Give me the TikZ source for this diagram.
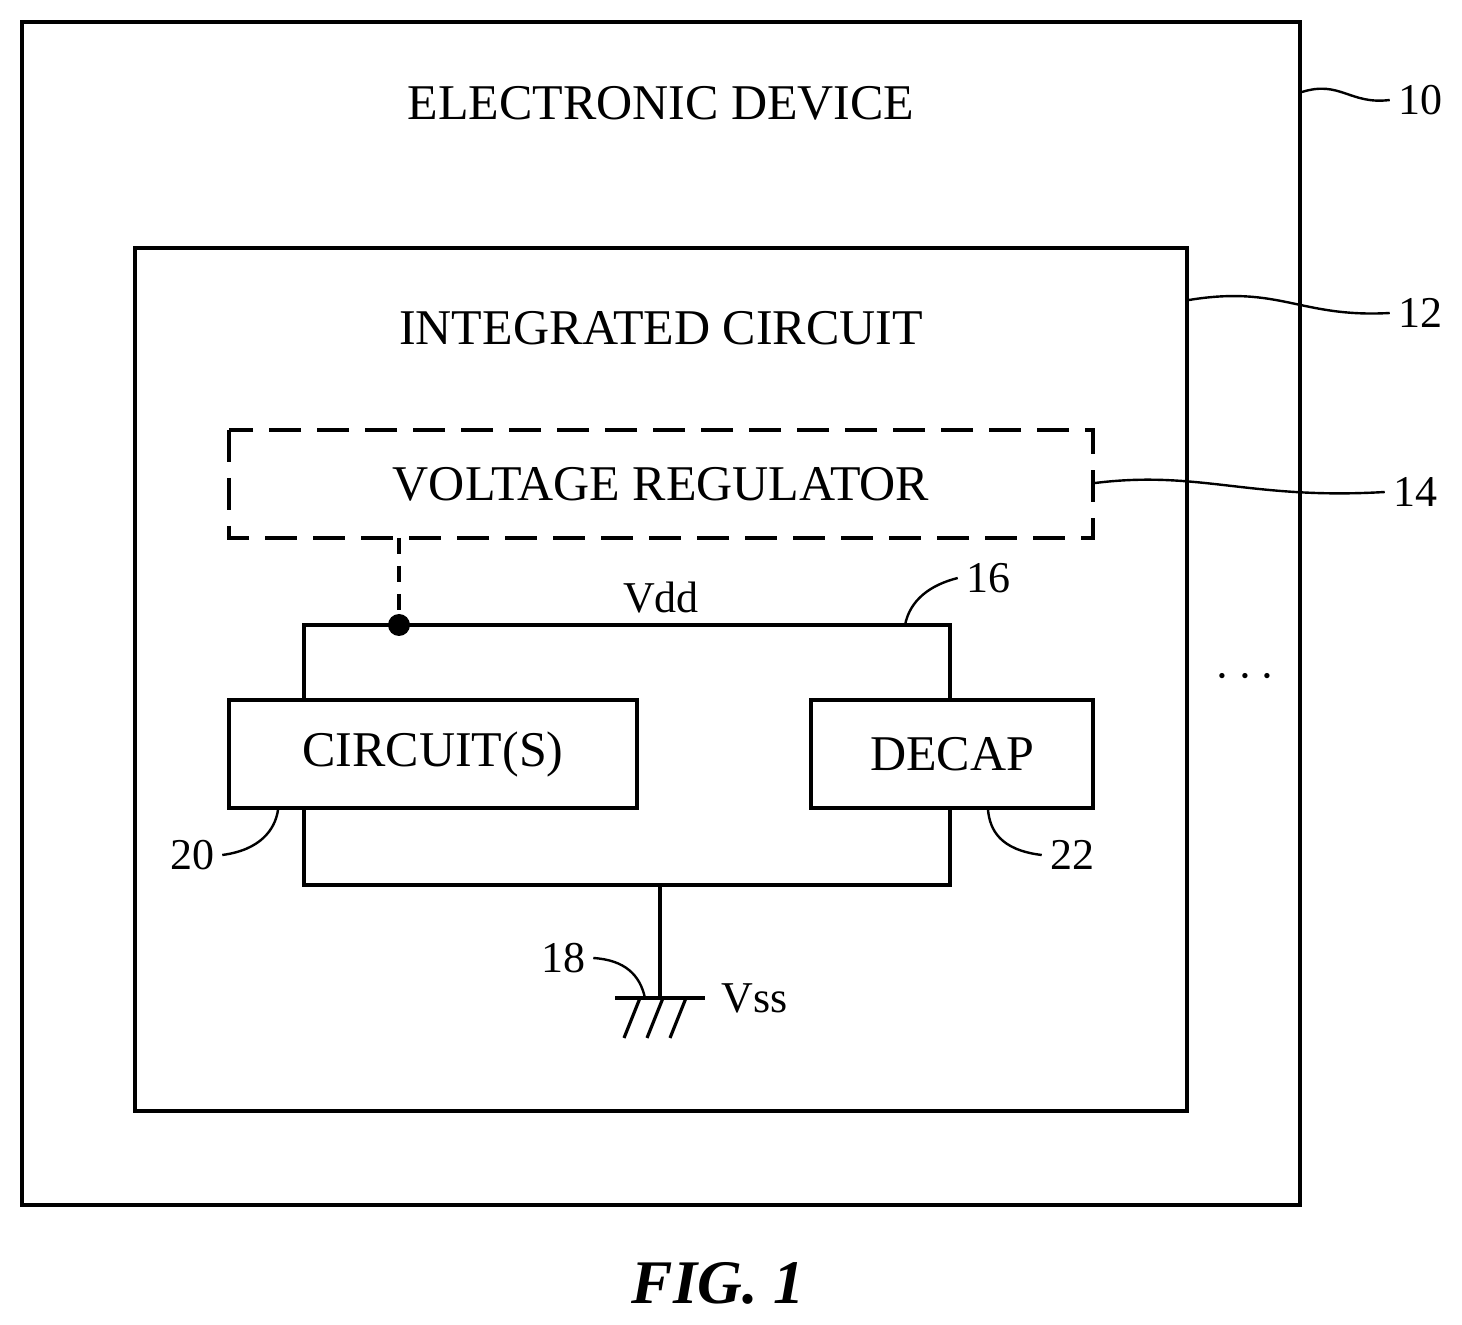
\documentclass[tikz,border=0pt]{standalone}
\usepackage{fontspec}
\setmainfont{Liberation Serif}
\begin{document}
\begin{tikzpicture}[x=0.5pt,y=-0.5pt,line width=1.6pt,
 lbl/.style={font=\fontsize{25}{30}\selectfont},
 num/.style={font=\fontsize{22}{26}\selectfont},
 box/.style={draw,line width=1.8pt},
 lead/.style={line width=1.2pt}]
\useasboundingbox (0,0) rectangle (1462,1325);
\draw[box] (22,22) rectangle (1300,1205);
\draw[box] (135,248) rectangle (1187,1111);
\draw[box,dashed,dash pattern=on 16pt off 8pt] (229,430) rectangle (1093,538);
\node[box,minimum width=204pt,minimum height=54pt,lbl] (c) at (433,754) {CIRCUIT(S)};
\node[box,minimum width=141pt,minimum height=54pt,lbl] (d) at (952,754) {DECAP};
\node[lbl] (ed) at (661,103) {ELECTRONIC DEVICE};
\node[lbl] (ic) at (661,328) {INTEGRATED CIRCUIT};
\node[lbl] (vr) at (661,484) {VOLTAGE REGULATOR};
\node[num] (vdd) at (661,598) {Vdd};
\node[num] (vss) at (755,998) {Vss};
\node[font=\fontsize{28}{30}\selectfont] (dots) at (1245,677) {$\cdots$};
\node[font=\bfseries\itshape\fontsize{31}{36}\selectfont] (fig) at (718,1283) {FIG. 1};
\coordinate (tl) at (304,625); \coordinate (tr) at (950,625);
\coordinate (bl) at (304,885); \coordinate (br) at (950,885);
\coordinate (g) at (660,885); \coordinate (gb) at (660,998);
\coordinate (dot) at (399,625);
\draw (c.north -| tl) -- (tl) -- (tr) -- (d.north -| tr);
\draw (c.south -| bl) -- (bl) -- (br) -- (d.south -| br);
\draw (g) -- (gb);
\draw (615,998) -- (705,998);
\foreach \x in {640,663,686} \draw (\x,998) -- (\x-16,1038);
\draw[dashed,dash pattern=on 8pt off 6pt] (399,538) -- (dot);
\fill (dot) circle (5.5pt);
\node[num] (n10) at (1420,100) {10};
\node[num] (n12) at (1420,313) {12};
\node[num] (n14) at (1415,492) {14};
\node[num] (n16) at (988,578) {16};
\node[num] (n18) at (563,958) {18};
\node[num] (n20) at (192,855) {20};
\node[num] (n22) at (1072,855) {22};
\draw[lead] (1302,92) .. controls (1340,80) and (1350,105) .. (n10.west);
\draw[lead] (1189,300) .. controls (1280,285) and (1300,318) .. (n12.west);
\draw[lead] (1095,483) .. controls (1200,470) and (1250,500) .. (n14.west);
\draw[lead] (905,625) .. controls (910,600) and (930,585) .. (n16.west);
\draw[lead] (n18.east) .. controls (625,960) and (640,975) .. (645,998);
\draw[lead] (n20.east) .. controls (260,850) and (275,830) .. (278,810);
\draw[lead] (n22.west) .. controls (1000,850) and (990,830) .. (988,810);
\end{tikzpicture}
\end{document}
